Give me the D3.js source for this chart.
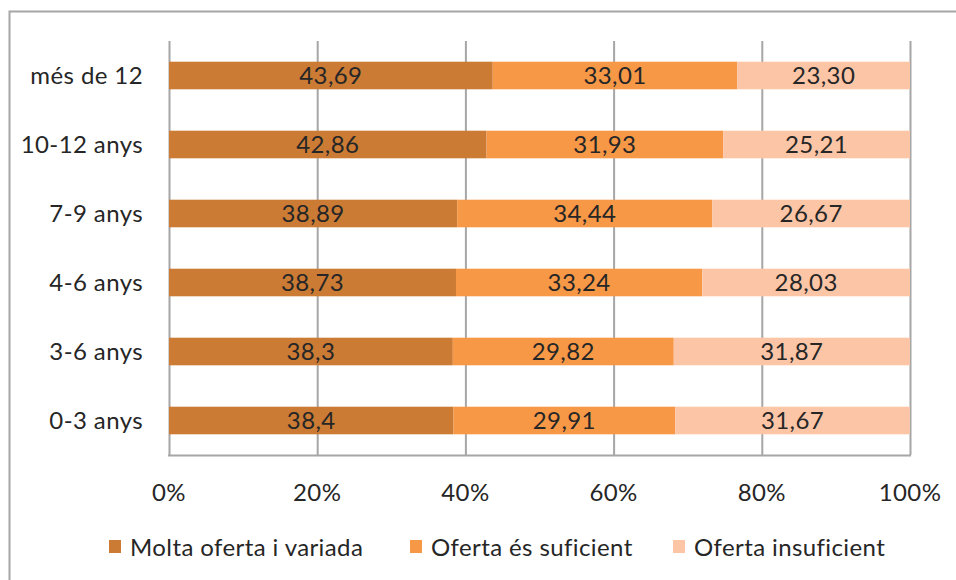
<!DOCTYPE html>
<html><head><meta charset="utf-8">
<script src="https://cdn.jsdelivr.net/npm/d3@7"></script>
<style>body{margin:0;background:#fff;}svg{display:block;font-family:Lato,"Open Sans",sans-serif;letter-spacing:0.4px;}</style>
</head><body><svg id="c" width="956" height="580"></svg>
<script>
const categories = ["més de 12","10-12 anys","7-9 anys","4-6 anys","3-6 anys","0-3 anys"];
const seriesNames = ["Molta oferta i variada","Oferta és suficient","Oferta insuficient"];
const molta = [43.69,42.86,38.89,38.73,38.3,38.4];
const suficient = [33.01,31.93,34.44,33.24,29.82,29.91];
const insuficient = [23.30,25.21,26.67,28.03,31.87,31.67];
const labelsMolta = ["43,69","42,86","38,89","38,73","38,3","38,4"];
const labelsSuf = ["33,01","31,93","34,44","33,24","29,82","29,91"];
const labelsIns = ["23,30","25,21","26,67","28,03","31,87","31,67"];
const tickValues = [0,20,40,60,80,100];
const colors = ["#CC7B35","#F79847","#FBC5A6"];

const FS = 24;
const svg = d3.select("#c");
svg.append("rect").attr("x",9.5).attr("y",11.5).attr("width",960).attr("height",600)
  .attr("fill","none").attr("stroke","#a6a6a6").attr("stroke-width",2);

const x = d3.scaleLinear().domain([0,100]).range([169,910]);
const y = d3.scaleBand().domain(categories).range([41,455]).paddingInner(0.6).paddingOuter(0.3);

svg.append("g").selectAll("line").data(tickValues).join("line")
  .attr("x1",d=>x(d)+0.5).attr("x2",d=>x(d)+0.5).attr("y1",41).attr("y2",455)
  .attr("stroke","#a6a6a6").attr("stroke-width",2);
svg.append("line").attr("x1",168).attr("x2",911).attr("y1",455.5).attr("y2",455.5)
  .attr("stroke","#a6a6a6").attr("stroke-width",2);

const seriesVals = [molta,suficient,insuficient];
const seriesLabels = [labelsMolta,labelsSuf,labelsIns];
const rows = categories.map((c,i)=>{
  let acc=0; return seriesVals.map((s,k)=>{const r={cat:c,k,x0:acc,x1:acc+s[i],label:seriesLabels[k][i]}; acc+=s[i]; return r;});
}).flat();

svg.append("g").selectAll("rect").data(rows).join("rect")
  .attr("x",d=>x(d.x0)).attr("width",d=>x(d.x1)-x(d.x0))
  .attr("y",d=>y(d.cat)).attr("height",y.bandwidth())
  .attr("fill",d=>colors[d.k]);

svg.append("g").selectAll("text").data(rows).join("text")
  .attr("x",d=>(x(d.x0)+x(d.x1))/2).attr("y",d=>y(d.cat)+y.bandwidth()/2)
  .attr("dy","0.36em").attr("text-anchor","middle").attr("font-size",FS)
  .attr("fill","#262626").text(d=>d.label);

svg.append("g").selectAll("text").data(categories).join("text")
  .attr("x",143).attr("y",d=>y(d)+y.bandwidth()/2).attr("dy","0.36em")
  .attr("text-anchor","end").attr("font-size",FS).attr("fill","#262626").text(d=>d);

svg.append("g").selectAll("text").data(tickValues).join("text")
  .attr("x",d=>x(d)).attr("y",492).attr("dy","0.36em")
  .attr("text-anchor","middle").attr("font-size",FS).attr("fill","#262626").text(d=>d+"%");

const legX = [109,410,673];
const leg = svg.append("g").selectAll("g").data(seriesNames).join("g")
  .attr("transform",(d,i)=>`translate(${legX[i]},547)`);
leg.append("rect").attr("x",0).attr("y",-7).attr("width",12).attr("height",13).attr("fill",(d,i)=>colors[i]);
leg.append("text").attr("x",21).attr("y",0).attr("dy","0.36em").attr("font-size",FS)
  .attr("fill","#262626").text(d=>d);
</script></body></html>
